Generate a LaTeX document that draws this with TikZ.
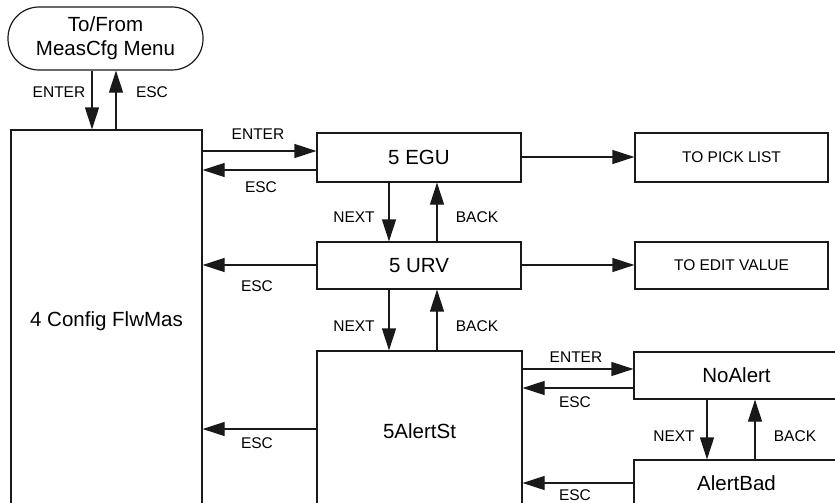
\documentclass[tikz,border=0pt]{standalone}
\usepackage{fontspec}
\setmainfont{Liberation Sans}
\usetikzlibrary{arrows.meta}
\begin{document}
\begin{tikzpicture}[x=1pt,y=-1pt,
  box/.style={draw=black!90, line width=1.2pt, fill=white, inner sep=0pt, font=\fontsize{20.5}{25}\selectfont, align=center},
  lab/.style={inner sep=0pt, font=\fontsize{15.5}{18}\selectfont},
  arr/.style={draw=black!90, line width=1.2pt, -{Triangle[length=22pt,width=14pt]}}]
\useasboundingbox (0,0) rectangle (835,503);
\clip (0,0) rectangle (835,503);
% nodes
\node[box, rounded corners=31pt, minimum width=195pt, minimum height=63pt] (term) at (105.5,38.5) {To/From\\[-1pt]MeasCfg Menu};
\node[box, minimum width=191pt, minimum height=382pt] (cfg) at (106.5,321) {4 Config FlwMas};
\node[box, minimum width=204pt, minimum height=49pt] (egu) at (419,157.5) {5 EGU};
\node[box, minimum width=204pt, minimum height=47pt] (urv) at (419,265.5) {5 URV};
\node[box, minimum width=205pt, minimum height=160pt] (alert) at (419.5,431) {5AlertSt};
\node[box, minimum width=193pt, minimum height=49pt, font=\fontsize{15.5}{18}\selectfont] (pick) at (731.5,157.5) {TO PICK LIST};
\node[box, minimum width=193pt, minimum height=47pt, font=\fontsize{15.5}{18}\selectfont] (edit) at (731.5,265.5) {TO EDIT VALUE};
\node[box, minimum width=205pt, minimum height=47pt] (noalert) at (736.5,375.5) {NoAlert};
\node[box, minimum width=205pt, minimum height=46pt] (alertbad) at (736.5,483) {AlertBad};
% x/y helper coordinates
\coordinate (xa) at (92,0);
\coordinate (xb) at (116,0);
\coordinate (xn) at (389,0);
\coordinate (xk) at (437,0);
\coordinate (xn2) at (707,0);
\coordinate (xk2) at (755,0);
\coordinate (y1) at (0,151);
\coordinate (y2) at (0,170);
\coordinate (y3) at (0,157);
\coordinate (y4) at (0,265);
\coordinate (y5) at (0,429);
\coordinate (y6) at (0,369);
\coordinate (y7) at (0,388);
\coordinate (y8) at (0,483);
% connectors
\draw[arr] (xa |- term.south) -- (xa |- cfg.north);
\draw[arr] (xb |- cfg.north) -- (xb |- term.south);
\draw[arr] (cfg.east |- y1) -- (egu.west |- y1);
\draw[arr] (egu.west |- y2) -- (cfg.east |- y2);
\draw[arr] (egu.east |- y3) -- (pick.west |- y3);
\draw[arr] (xn |- egu.south) -- (xn |- urv.north);
\draw[arr] (xk |- urv.north) -- (xk |- egu.south);
\draw[arr] (urv.west |- y4) -- (cfg.east |- y4);
\draw[arr] (urv.east |- y4) -- (edit.west |- y4);
\draw[arr] (xn |- urv.south) -- (xn |- alert.north);
\draw[arr] (xk |- alert.north) -- (xk |- urv.south);
\draw[arr] (alert.west |- y5) -- (cfg.east |- y5);
\draw[arr] (alert.east |- y6) -- (noalert.west |- y6);
\draw[arr] (noalert.west |- y7) -- (alert.east |- y7);
\draw[arr] (xn2 |- noalert.south) -- (xn2 |- alertbad.north);
\draw[arr] (xk2 |- alertbad.north) -- (xk2 |- noalert.south);
\draw[arr] (alertbad.west |- y8) -- (alert.east |- y8);
% labels
\node[lab] (l1) at (59,92) {ENTER};
\node[lab] (l2) at (152,92) {ESC};
\node[lab] (l3) at (258,134) {ENTER};
\node[lab] (l4) at (261,187) {ESC};
\node[lab] (l5) at (354,217.5) {NEXT};
\node[lab] (l6) at (477,217.5) {BACK};
\node[lab] (l7) at (257,286) {ESC};
\node[lab] (l8) at (354,326) {NEXT};
\node[lab] (l9) at (477,326) {BACK};
\node[lab] (l10) at (257,443) {ESC};
\node[lab] (l11) at (576,357) {ENTER};
\node[lab] (l12) at (575,402) {ESC};
\node[lab] (l13) at (674,436) {NEXT};
\node[lab] (l14) at (795,436) {BACK};
\node[lab] (l15) at (575,495.5) {ESC};
\end{tikzpicture}
\end{document}
